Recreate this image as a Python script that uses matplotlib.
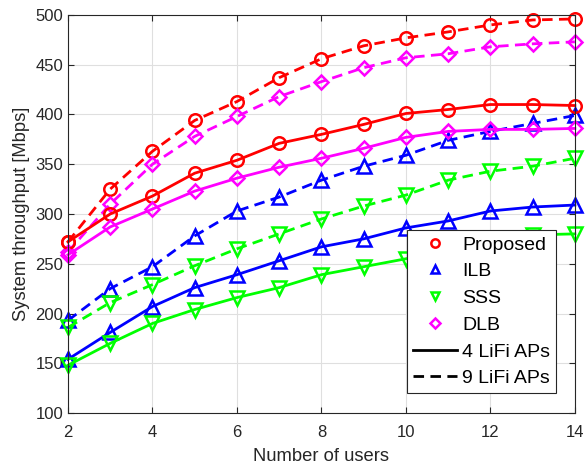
import matplotlib.pyplot as plt
from matplotlib.lines import Line2D

plt.rcParams['font.family'] = ['Liberation Sans', 'DejaVu Sans']

# dados
users = [2, 3, 4, 5, 6, 7, 8, 9, 10, 11, 12, 13, 14]

proposed_4 = [272, 300, 318, 341, 354, 371, 380, 390, 401, 405, 410, 410, 409]
proposed_9 = [272, 325, 363, 394, 413, 437, 456, 469, 477, 483, 490, 495, 496]
ilb_4 = [154, 181, 207, 226, 239, 253, 267, 275, 286, 293, 303, 307, 309]
ilb_9 = [193, 225, 247, 278, 303, 317, 334, 348, 359, 374, 383, 391, 399]
sss_4 = [148, 170, 190, 204, 216, 226, 239, 247, 255, 264, 272, 279, 280]
sss_9 = [186, 211, 229, 248, 265, 280, 295, 308, 319, 334, 343, 348, 356]
dlb_4 = [259, 287, 305, 323, 336, 347, 356, 366, 377, 383, 385, 385, 386]
dlb_9 = [262, 310, 350, 378, 398, 418, 433, 447, 457, 461, 468, 471, 473]

labels = ['Proposed', 'ILB', 'SSS', 'DLB']
colors = ['#ff0000', '#0000ff', '#00ff00', '#ff00ff']
markers = ['o', '^', 'v', 'D']
sizes = [9, 10, 10, 7]
dashed = (0, (3.8, 2.3))

fig = plt.figure(figsize=(5.86, 4.68), dpi=100)
ax = fig.add_axes([0.116, 0.1175, 0.865, 0.8505])

series = [(proposed_4, proposed_9), (ilb_4, ilb_9), (sss_4, sss_9), (dlb_4, dlb_9)]
# primeiro as tracejadas (9 APs), depois as solidas (4 APs)
for (s4, s9), c, m, ms in zip(series, colors, markers, sizes):
    ax.plot(users, s9, color=c, linestyle=dashed, linewidth=2, marker=m, markersize=ms,
            markerfacecolor='none', markeredgewidth=1.8, clip_on=False)
for (s4, s9), c, m, ms in zip(series, colors, markers, sizes):
    ax.plot(users, s4, color=c, linestyle='-', linewidth=2, marker=m, markersize=ms,
            markerfacecolor='none', markeredgewidth=1.8, clip_on=False)

ax.set_xlim(2, 14)
ax.set_ylim(100, 500)
ax.set_xticks(range(2, 15, 2))
ax.set_yticks(range(100, 501, 50))
ax.grid(True, color='#dfdfdf', linewidth=0.8)
ax.set_axisbelow(True)
ax.tick_params(direction='in', labelsize=12, colors='#262626', top=True, right=True, length=4)
ax.tick_params(axis='x', pad=8.5)
for s in ax.spines.values():
    s.set_color('#262626')
    s.set_linewidth(0.8)
ax.set_xlabel('Number of users', fontsize=13.2, color='#262626', labelpad=6)
ax.set_ylabel('System throughput [Mbps]', fontsize=13.2, color='#262626', labelpad=4)

# legenda com marcadores e tipos de linha separados
handles = []
for l, c, m in zip(labels, colors, markers):
    handles.append(Line2D([], [], color=c, linestyle='none', marker=m,
                          markersize=6 if m != 'D' else 5, markerfacecolor='none',
                          markeredgewidth=1.8, label=l))
handles.append(Line2D([], [], color='black', linestyle='-', linewidth=2, label='4 LiFi APs'))
handles.append(Line2D([], [], color='black', linestyle=dashed, linewidth=2, label='9 LiFi APs'))
leg = ax.legend(handles=handles, loc='lower right', bbox_to_anchor=(0.963, 0.05),
                borderaxespad=0, fontsize=14, handlelength=2.3, handletextpad=0.25,
                labelspacing=0.47, borderpad=0.3, fancybox=False, framealpha=1,
                edgecolor='#262626')
leg.get_frame().set_linewidth(0.8)

fig.savefig('out.png', dpi=100)
